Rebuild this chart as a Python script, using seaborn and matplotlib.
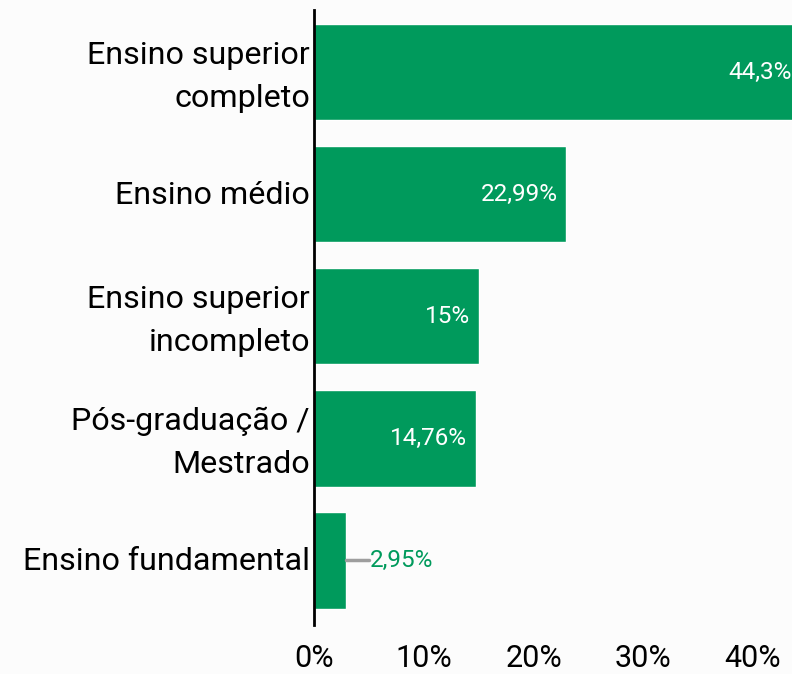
import matplotlib
matplotlib.use("Agg")
import matplotlib.pyplot as plt
import matplotlib.transforms as mtransforms
import seaborn as sns
import pandas as pd

# %% data
categorias = ["Ensino superior\ncompleto", "Ensino médio", "Ensino superior\nincompleto",
              "Pós-graduação /\nMestrado", "Ensino fundamental"]
valores = [44.3, 22.99, 15.0, 14.76, 2.95]
rotulos = ["44,3%", "22,99%", "15%", "14,76%", "2,95%"]
xticks = [0, 10, 20, 30, 40]

df = pd.DataFrame({"categoria": categorias, "valor": valores})

# %% style
verde = "#009a5c"
fundo = "#fcfcfc"
sns.set_style("white")
plt.rcParams["font.family"] = ["Roboto", "DejaVu Sans"]
plt.rcParams["text.color"] = "black"
plt.rcParams["xtick.color"] = "black"
plt.rcParams["ytick.color"] = "black"

fig = plt.figure(figsize=(7.92, 6.74), dpi=100, facecolor=fundo)
ax = fig.add_axes([314 / 792, 49 / 674, 1 - 314 / 792, 615 / 674])
ax.set_facecolor(fundo)

sns.barplot(data=df, x="valor", y="categoria", orient="h", color=verde,
            saturation=1, width=0.79, ax=ax)

ax.set_xlim(0, 43.55)
ax.set_ylim(4.53, -0.51)

for i, (v, r) in enumerate(zip(valores, rotulos)):
    if v > 10:
        ax.text(v - 0.8, i, r, ha="right", va="center", color="white", fontsize=17.5)
    else:
        ax.plot([v, v + 2.1], [i, i], color="#9e9e9e", lw=2.5, clip_on=False)
        ax.text(v + 2.1, i, r, ha="left", va="center", color=verde, fontsize=17.5)

ax.set_xticks(xticks)
ax.set_xticklabels([f"{t}%" for t in xticks], fontsize=22)
ax.tick_params(axis="x", length=0, pad=14, labelcolor="black")
ax.tick_params(axis="y", length=0, pad=3, labelsize=23.2, labelcolor="black")
ax.set_xlabel("")
ax.set_ylabel("")

for s in ["top", "right", "bottom"]:
    ax.spines[s].set_visible(False)
ax.spines["left"].set_color("black")
ax.spines["left"].set_linewidth(2)

# small vertical nudge of the category labels
fig.canvas.draw()
for lab in ax.get_yticklabels():
    lab.set_linespacing(1.58)
    dy = 5 if "\n" in lab.get_text() else 2
    lab.set_transform(lab.get_transform() +
                      mtransforms.ScaledTranslation(0, dy / 100, fig.dpi_scale_trans))

fig.savefig("out.png", dpi=100, facecolor=fundo)
